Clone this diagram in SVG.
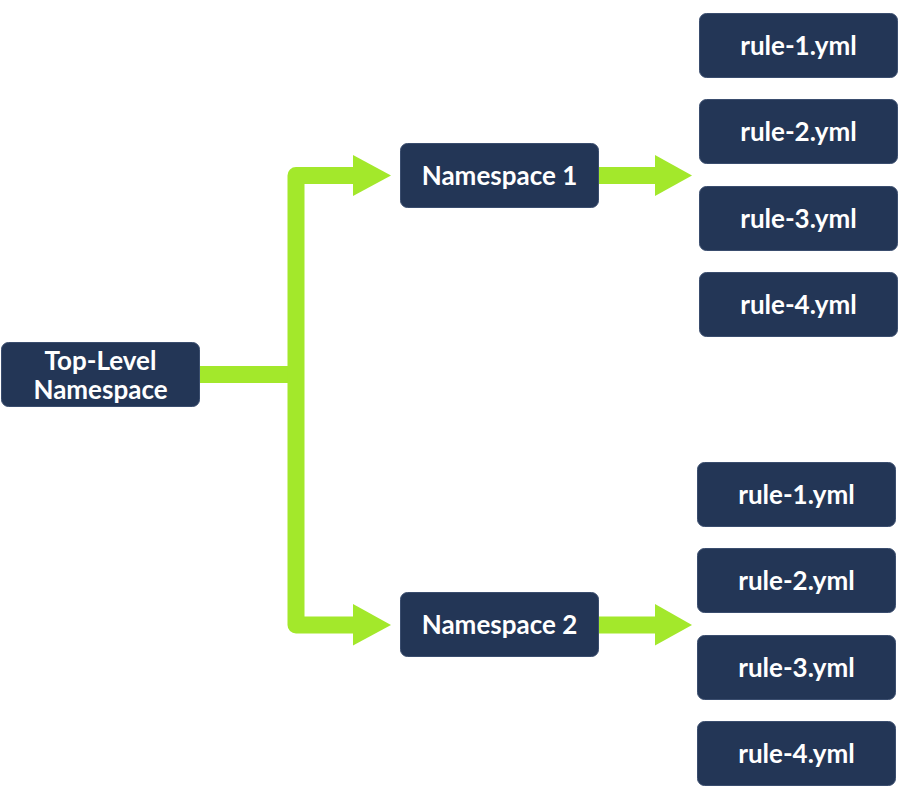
<svg xmlns="http://www.w3.org/2000/svg" width="900" height="800" viewBox="0 0 900 800">
<style>
.box{fill:#233656;stroke:#3a4d6e;stroke-width:1}
.t{fill:#ffffff;font-family:Lato,"Noto Sans",sans-serif;font-weight:bold;font-size:26px;text-anchor:middle;dominant-baseline:central}
.bar{fill:none;stroke:#a3e82b;stroke-width:17;stroke-linejoin:round}
.head{fill:#a3e82b}
</style>
<rect width="900" height="800" fill="#ffffff"/>
<g id="connectors">
<path class="bar" d="M200 374.5 H296"/>
<path class="bar" d="M356 175.5 H296 V625 H356"/>
<polygon class="head" points="353,155 391,175.5 353,196"/>
<polygon class="head" points="353,604 391,625 353,645.5"/>
<path class="bar" d="M599 175.5 H658"/>
<polygon class="head" points="655,155 692,175.5 655,196"/>
<path class="bar" d="M599 625 H658"/>
<polygon class="head" points="655,604 692,625 655,645.5"/>
</g>
<g id="top-level">
<rect class="box" x="1.5" y="342.5" width="198" height="64" rx="7"/>
<text class="t" x="100.5" y="360">Top-Level</text>
<text class="t" x="100.5" y="389">Namespace</text>
</g>
<g id="ns1">
<rect class="box" x="400.5" y="143.5" width="198" height="64" rx="7"/>
<text class="t" x="499.5" y="175">Namespace 1</text>
</g>
<g id="ns2">
<rect class="box" x="400.5" y="592.5" width="198" height="64" rx="7"/>
<text class="t" x="499.5" y="624">Namespace 2</text>
</g>
<g id="r1a"><rect class="box" x="699.5" y="13.5" width="198" height="64" rx="7"/><text class="t" x="798.5" y="45">rule-1.yml</text></g>
<g id="r2a"><rect class="box" x="699.5" y="99.5" width="198" height="64" rx="7"/><text class="t" x="798.5" y="131">rule-2.yml</text></g>
<g id="r3a"><rect class="box" x="699.5" y="186.5" width="198" height="64" rx="7"/><text class="t" x="798.5" y="218">rule-3.yml</text></g>
<g id="r4a"><rect class="box" x="699.5" y="272.5" width="198" height="64" rx="7"/><text class="t" x="798.5" y="304">rule-4.yml</text></g>
<g id="r1b"><rect class="box" x="697.5" y="462.5" width="198" height="64" rx="7"/><text class="t" x="796.5" y="494">rule-1.yml</text></g>
<g id="r2b"><rect class="box" x="697.5" y="548.5" width="198" height="64" rx="7"/><text class="t" x="796.5" y="580">rule-2.yml</text></g>
<g id="r3b"><rect class="box" x="697.5" y="635.5" width="198" height="64" rx="7"/><text class="t" x="796.5" y="667">rule-3.yml</text></g>
<g id="r4b"><rect class="box" x="697.5" y="721.5" width="198" height="64" rx="7"/><text class="t" x="796.5" y="753">rule-4.yml</text></g>
</svg>
